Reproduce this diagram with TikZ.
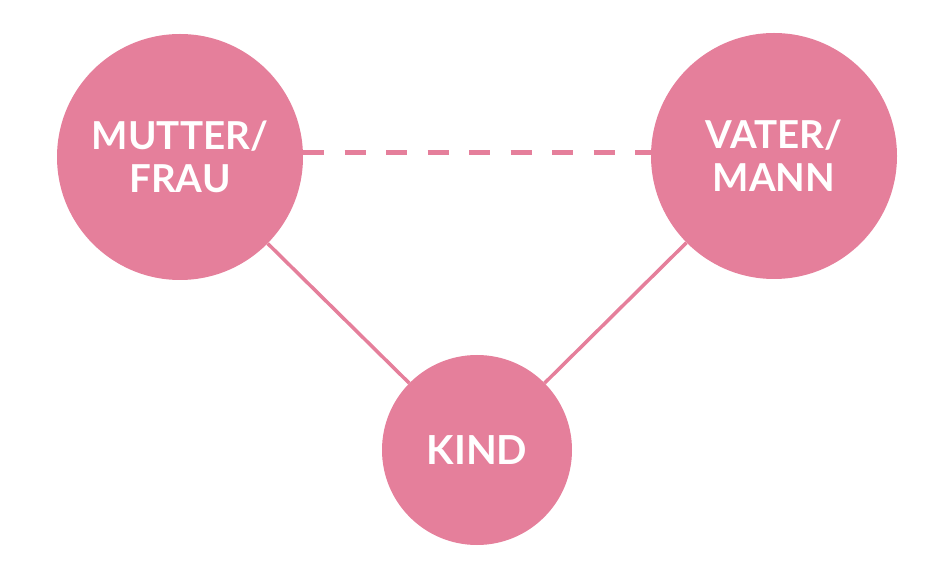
\documentclass[tikz,border=0pt]{standalone}
\usepackage{fontspec}
\setmainfont{Lato}
\definecolor{rosa}{RGB}{229,127,155}
\begin{document}
\begin{tikzpicture}[x=1pt,y=-1pt,
  person/.style={circle,fill=rosa,inner sep=0pt,text=white,align=center,
    font=\bfseries\fontsize{38.5}{43}\selectfont},
  link/.style={draw=rosa,line width=3.5pt},
  dashlink/.style={draw=rosa,line width=5pt,dash pattern=on 21pt off 20.5pt}]
\useasboundingbox (0,0) rectangle (951,577);
\node[person,minimum size=246pt] (m) at (180,157) {MUTTER/\\FRAU};
\node[person,minimum size=246pt] (v) at (774,156) {VATER/\\MANN};
\node[person,minimum size=190pt,font=\bfseries\fontsize{40}{43}\selectfont] (k) at (477,450) {KIND};
\draw[dashlink] (m.east |- 0,153) -- (v.west |- 0,153);
\draw[link] (m) -- (k);
\draw[link] (v) -- (k);
\end{tikzpicture}
\end{document}
